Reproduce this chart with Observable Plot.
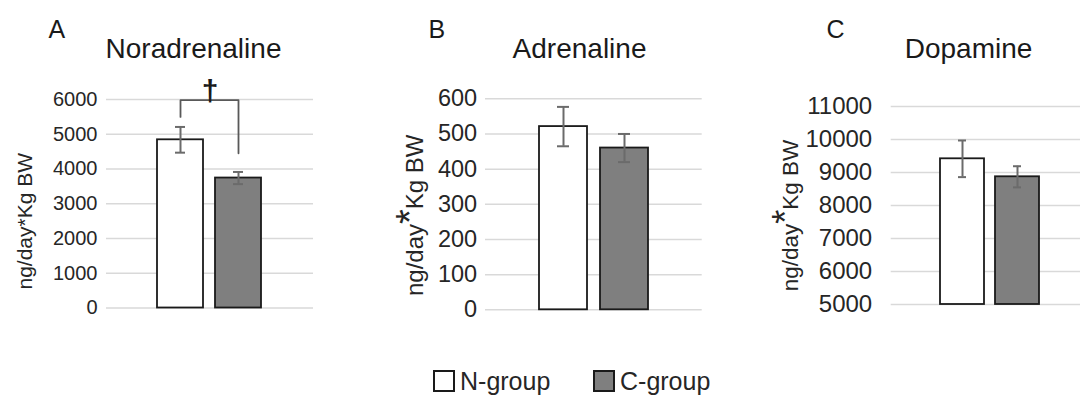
<!DOCTYPE html>
<html>
<head>
<meta charset="utf-8">
<script src="https://cdn.jsdelivr.net/npm/d3@7"></script>
<script src="https://cdn.jsdelivr.net/npm/@observablehq/plot@0.6"></script>
<style>
  body { margin: 0; background: #fff; }
  #root { position: relative; width: 1081px; height: 399px; overflow: hidden; font-family: "Liberation Sans", Arial, sans-serif; color: #262626; }
  .panel { position: absolute; top: 0; }
  #legend { position: absolute; top: 364px; left: 0; width: 1081px; height: 34px; }
  .item { position: absolute; top: 0; display: flex; align-items: center; font-size: 25px; line-height: 34px; }
  .sw { width: 18px; height: 18px; border: 2px solid #1a1a1a; margin-right: 5px; }
</style>
</head>
<body>
<div id="root">
  <div id="legend"></div>
</div>
<script>
// ---- data ----
const groups = ["N-group", "C-group"];
const groupFill = ["#ffffff", "#7f7f7f"];
const panelLetters = ["A", "B", "C"];
const panelTitles = ["Noradrenaline", "Adrenaline", "Dopamine"];
const yLabelParts = ["ng/day", "*", "Kg BW"];

const noradrenalineMean = [4840, 3740];
const noradrenalineErr = [370, 175];
const adrenalineMean = [521, 460];
const adrenalineErr = [56, 40];
const dopamineMean = [9415, 8870];
const dopamineErr = [555, 320];

const noradrenalineTicks = [0, 1000, 2000, 3000, 4000, 5000, 6000];
const adrenalineTicks = [0, 100, 200, 300, 400, 500, 600];
const dopamineTicks = [5000, 6000, 7000, 8000, 9000, 10000, 11000];

// significance bracket (panel A): leg ends and top level, and its mark
const bracketLegEnds = [5500, 4450];
const bracketTop = 5980;
const bracketMark = "†";

// ---- layout (per panel) ----
const layouts = [
  {left: 0, width: 360, mL: 106, mR: 47, mT: 99, mB: 22.5, padIn: 0.2, padOut: 0.864, align: 0.5, tickPad: 9, tickSize: 20,
   label: {dx: -81, dy: 17.5, size: 21, big: false}, title: {dx: -16.5, dy: -42}, letter: {dx: -58, dy: -62}},
  {left: 360, width: 360, mL: 125, mR: 18.3, mT: 98.3, mB: 20.7, padIn: 0.213, padOut: 0.867, align: 0.5, tickPad: 8.3, tickSize: 23.5,
   label: {dx: -70, dy: 11, size: 24, big: true}, title: {dx: -14.3, dy: -41.3}, letter: {dx: -57, dy: -61.3}},
  {left: 720, width: 361, mL: 170.7, mR: 1, mT: 106, mB: 26, padIn: 0.193, padOut: 0.8, align: 0.543, tickPad: 19, tickSize: 24,
   label: {dx: -100, dy: 10, size: 22.5, big: true}, title: {dx: -17.3, dy: -49}, letter: {dx: -64.7, dy: -69}}
];

const panelData = [
  {mean: noradrenalineMean, err: noradrenalineErr, ticks: noradrenalineTicks, base: 0},
  {mean: adrenalineMean, err: adrenalineErr, ticks: adrenalineTicks, base: 0},
  {mean: dopamineMean, err: dopamineErr, ticks: dopamineTicks, base: 5000}
];

const root = document.getElementById("root");
const font = '"Liberation Sans", Arial, sans-serif';
const labelText = yLabelParts.join("");

panelData.forEach((pd, i) => {
  const L = layouts[i];
  const rows = groups.map((g, j) => ({group: g, mean: pd.mean[j], err: pd.err[j], base: pd.base}));
  const yDomain = [pd.ticks[0], pd.ticks[pd.ticks.length - 1]];
  const marks = [
    Plot.ruleY(pd.ticks, {stroke: "#d9d9d9", strokeWidth: 1.5}),
    Plot.barY(rows, {x: "group", y1: "base", y2: "mean", fill: "group", stroke: "#1a1a1a", strokeWidth: 1.8}),
    Plot.ruleX(rows, {x: "group", y1: d => d.mean - d.err, y2: d => d.mean + d.err, stroke: "#6b6b6b", strokeWidth: 2}),
    Plot.tickY(rows, {x: "group", y: d => d.mean - d.err, stroke: "#6b6b6b", strokeWidth: 2, insetLeft: 18, insetRight: 18}),
    Plot.tickY(rows, {x: "group", y: d => d.mean + d.err, stroke: "#6b6b6b", strokeWidth: 2, insetLeft: 18, insetRight: 18}),
    Plot.text([labelText], {frameAnchor: "left", text: d => d, rotate: -90, textAnchor: "middle", lineAnchor: "middle",
      dx: L.label.dx, dy: L.label.dy, fontSize: L.label.size, fill: "#262626"}),
    Plot.text([panelTitles[i]], {frameAnchor: "top", text: d => d, lineAnchor: "bottom", dx: L.title.dx, dy: L.title.dy, fontSize: 28, fill: "#1a1a1a"}),
    Plot.text([panelLetters[i]], {frameAnchor: "top-left", text: d => d, textAnchor: "start", lineAnchor: "bottom", dx: L.letter.dx, dy: L.letter.dy, fontSize: 25, fill: "#1a1a1a"})
  ];
  if (i === 0) {
    const bracket = [
      {group: groups[0], y: bracketLegEnds[0]},
      {group: groups[0], y: bracketTop},
      {group: groups[1], y: bracketTop},
      {group: groups[1], y: bracketLegEnds[1]}
    ];
    marks.push(Plot.line(bracket, {x: "group", y: "y", stroke: "#595959", strokeWidth: 1.8}));
    marks.push(Plot.text([bracketMark], {frameAnchor: "middle", y: () => bracketTop, text: d => d, lineAnchor: "bottom", dy: 1, fontSize: 30, fontWeight: "bold", fill: "#1a1a1a"}));
  }
  const svg = Plot.plot({
    width: L.width,
    height: 330,
    marginLeft: L.mL, marginRight: L.mR, marginTop: L.mT, marginBottom: L.mB,
    style: `font-family: ${font}; font-size: ${L.tickSize}px; color: #262626; background: transparent; overflow: visible;`,
    x: {domain: groups, paddingInner: L.padIn, paddingOuter: L.padOut, align: L.align, axis: null},
    y: {domain: yDomain, ticks: pd.ticks, tickSize: 0, tickPadding: L.tickPad, tickFormat: "d", label: null},
    color: {domain: groups, range: groupFill},
    marks
  });
  if (L.label.big) {
    d3.select(svg).selectAll("text").filter(function () { return this.textContent === labelText; }).each(function () {
      const t = d3.select(this);
      t.text(null);
      t.append("tspan").text(yLabelParts[0]);
      t.append("tspan").attr("style", `font-size:${Math.round(L.label.size * 1.6)}px`).text(yLabelParts[1]);
      t.append("tspan").attr("style", `font-size:${L.label.size}px`).text(yLabelParts[2]);
    });
  }
  const wrap = document.createElement("div");
  wrap.className = "panel";
  wrap.style.left = L.left + "px";
  wrap.appendChild(svg);
  root.appendChild(wrap);
});

// legend
const legendLeft = [433, 593];
const legend = document.getElementById("legend");
groups.forEach((g, j) => {
  const item = document.createElement("div");
  item.className = "item";
  item.style.left = legendLeft[j] + "px";
  const sw = document.createElement("div");
  sw.className = "sw";
  sw.style.background = groupFill[j];
  const tx = document.createElement("span");
  tx.textContent = g;
  item.appendChild(sw);
  item.appendChild(tx);
  legend.appendChild(item);
});
</script>
</body>
</html>
